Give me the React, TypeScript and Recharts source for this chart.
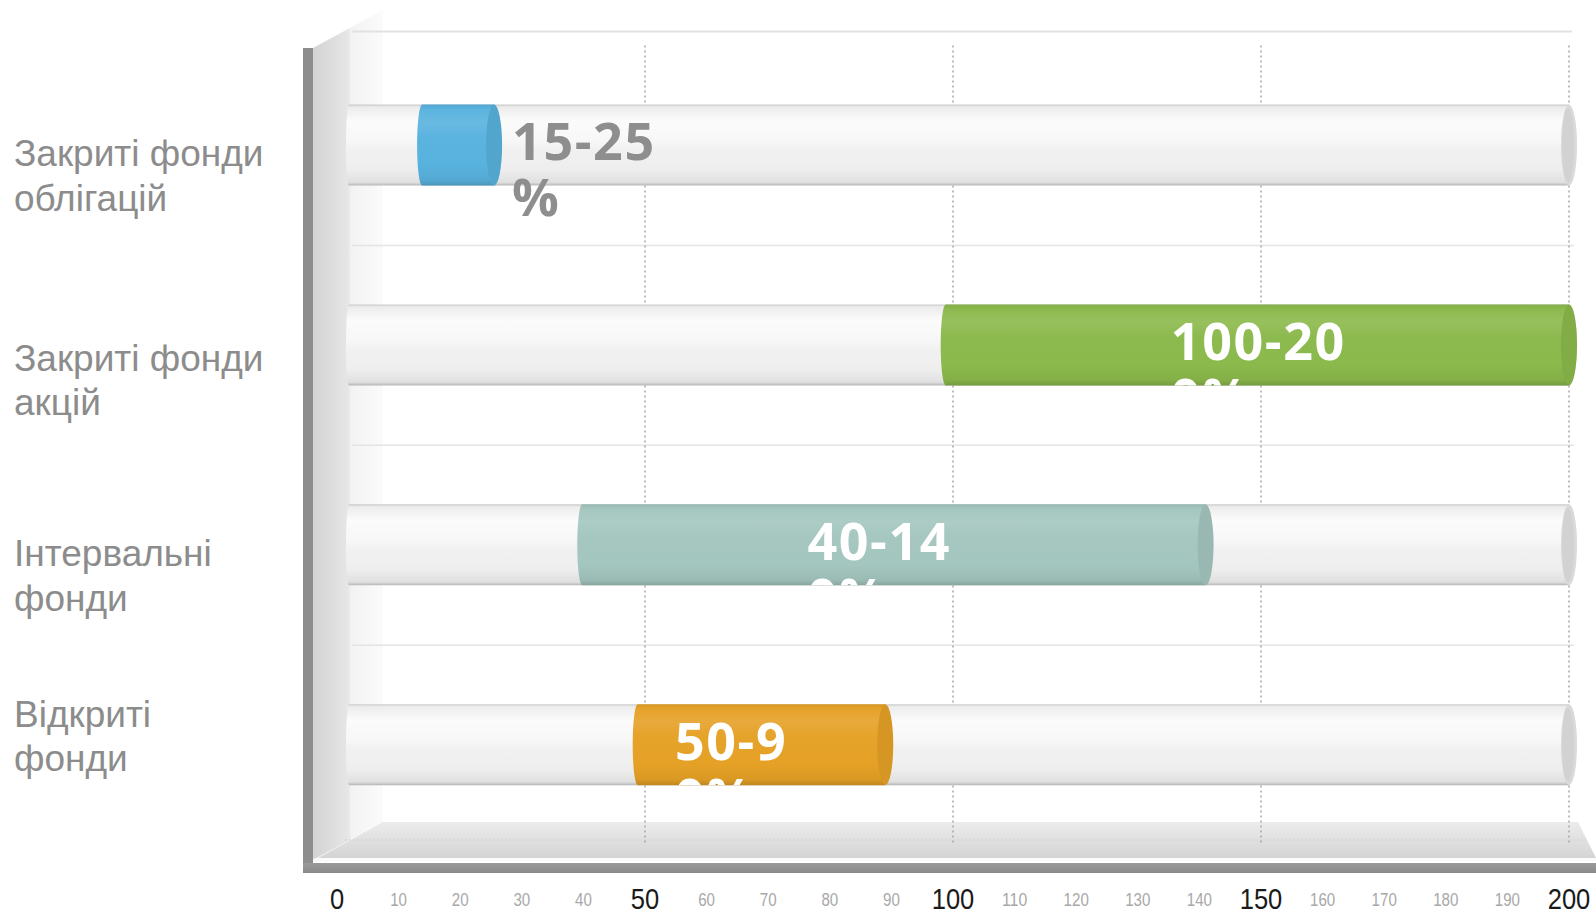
import React from 'react';
import { BarChart, Bar, XAxis, YAxis, CartesianGrid, Cell, LabelList } from 'recharts';

// ---------- data ----------
const categories = [
  'Закриті фонди облігацій',
  'Закриті фонди акцій',
  'Інтервальні фонди',
  'Відкриті фонди',
];
const rangeLow = [13, 98, 39, 48];
const rangeHigh = [25.5, 200, 141, 89];
const rangeLabels = ['15-25\n%', '100-20\n0%', '40-14\n0%', '50-9\n0%'];
const xTicks = [0, 10, 20, 30, 40, 50, 60, 70, 80, 90, 100, 110, 120, 130, 140, 150, 160, 170, 180, 190, 200];
const majorTicks = [0, 50, 100, 150, 200];
const barColors = ['#58b2de', '#8bb94b', '#a3c6be', '#e5a126'];

const data = categories.map((name, i) => ({
  name,
  range: [rangeLow[i], rangeHigh[i]],
  label: rangeLabels[i],
}));

// ---------- layout ----------
const W = 1596;
const H = 916;
const M_TOP = 45.6;
const M_RIGHT = 27;
const Y_AXIS_W = 337;
const X_AXIS_H = 60;
const M_BOTTOM = H - 845 - X_AXIS_H;
const PLOT_BOTTOM = H - M_BOTTOM - X_AXIS_H;
const BAND = (PLOT_BOTTOM - M_TOP) / categories.length;

const LABEL_FONT = "'Liberation Sans', Arial, sans-serif";
const TICK_FONT = "'Liberation Sans Narrow', 'Liberation Sans', Arial, sans-serif";
const VALUE_FONT = "'Open Sans', 'Noto Sans', sans-serif";

function shade(hex: string, amt: number) {
  const h = hex.replace('#', '');
  const r = parseInt(h.slice(0, 2), 16);
  const g = parseInt(h.slice(2, 4), 16);
  const b = parseInt(h.slice(4, 6), 16);
  const f = (c: number) =>
    Math.round(amt >= 0 ? c + (255 - c) * amt : c * (1 + amt));
  const to = (c: number) => Math.max(0, Math.min(255, f(c))).toString(16).padStart(2, '0');
  return '#' + to(r) + to(g) + to(b);
}

function wrapWords(text: string, maxChars: number) {
  const words = text.split(' ');
  const lines: string[] = [];
  let cur = '';
  for (const w of words) {
    const t = cur ? cur + ' ' + w : w;
    if (t.length > maxChars && cur) {
      lines.push(cur);
      cur = w;
    } else cur = t;
  }
  if (cur) lines.push(cur);
  return lines;
}

// ---------- shapes ----------
const Track = (props: any) => {
  const { x, y, width, height, index } = props;
  if (x == null || width == null) return null;
  const id = `track-${index}`;
  const x0 = x + 9;
  const x1 = x + width;
  const ry = height / 2;
  return (
    <g>
      <defs>
        <linearGradient id={id} x1="0" y1="0" x2="0" y2="1">
          <stop offset="0" stopColor="#c9c9c9" />
          <stop offset="0.03" stopColor="#ececec" />
          <stop offset="0.2" stopColor="#fbfbfb" />
          <stop offset="0.45" stopColor="#f7f7f7" />
          <stop offset="0.55" stopColor="#f1f1f1" />
          <stop offset="0.8" stopColor="#eeeeee" />
          <stop offset="0.96" stopColor="#e0e0e0" />
          <stop offset="1" stopColor="#b5b5b5" />
        </linearGradient>
      </defs>
      <path
        d={`M${x0 + 3},${y} H${x1} V${y + height} H${x0 + 3} A3,${ry} 0 0 1 ${x0 + 3},${y} Z`}
        fill={`url(#${id})`}
      />
      <ellipse cx={x1} cy={y + ry} rx={8} ry={ry} fill="#dadada" />
      <ellipse cx={x1 - 1} cy={y + ry} rx={6} ry={ry - 3} fill="#d2d2d2" />
    </g>
  );
};

const Cylinder = (props: any) => {
  const { x, y, width, height, fill, index } = props;
  if (x == null || width == null) return null;
  const id = `cyl-${index}`;
  const ry = height / 2;
  const x1 = x + width;
  return (
    <g>
      <defs>
        <linearGradient id={id} x1="0" y1="0" x2="0" y2="1">
          <stop offset="0" stopColor={shade(fill, -0.06)} />
          <stop offset="0.06" stopColor={shade(fill, 0.02)} />
          <stop offset="0.22" stopColor={shade(fill, 0.1)} />
          <stop offset="0.4" stopColor={shade(fill, 0.02)} />
          <stop offset="0.75" stopColor={fill} />
          <stop offset="0.93" stopColor={shade(fill, -0.05)} />
          <stop offset="1" stopColor={shade(fill, -0.16)} />
        </linearGradient>
      </defs>
      <path
        d={`M${x + 5},${y} H${x1} V${y + height} H${x + 5} A5,${ry} 0 0 1 ${x + 5},${y} Z`}
        fill={`url(#${id})`}
      />
      <ellipse cx={x1} cy={y + ry} rx={8} ry={ry} fill={shade(fill, -0.07)} />
    </g>
  );
};

const RangeLabel = (props: any) => {
  const vb = props.viewBox || {};
  const x = props.x ?? vb.x;
  const y = props.y ?? vb.y;
  const width = props.width ?? vb.width;
  const height = props.height ?? vb.height;
  const { value, index } = props;
  if (x == null || value == null) return null;
  const lines = String(value).split('\n');
  const inside = width > 150;
  const cy = y + height / 2;
  const left = inside ? x + width / 2 - 84 : x + width + 18;
  const color = inside ? '#ffffff' : '#8e8e8e';
  const clipId = `lblclip-${index}`;
  return (
    <g>
      {inside && (
        <defs>
          <clipPath id={clipId}>
            <rect x={x} y={y} width={width + 8} height={height} />
          </clipPath>
        </defs>
      )}
      <text
        x={left}
        y={cy + 15}
        fill={color}
        fontFamily={VALUE_FONT}
        fontWeight={700}
        fontSize={52}
        letterSpacing={1.6}
        clipPath={inside ? `url(#${clipId})` : undefined}
      >
        {lines.map((ln, i) => (
          <tspan key={i} x={left} dy={i === 0 ? 0 : 56}>
            {ln}
          </tspan>
        ))}
      </text>
    </g>
  );
};

const labelDy = [20.5, 25.5, 21, -18.5];

const YTick = (props: any) => {
  const { y, payload, index } = props;
  const lines = wrapWords(String(payload.value), 13);
  const dy = labelDy[index] ?? 20;
  return (
    <text x={14} y={y + dy} fill="#8c8c8c" fontFamily={LABEL_FONT} fontSize={37}>
      {lines.map((ln, i) => (
        <tspan key={i} x={14} dy={i === 0 ? 0 : 44.5}>
          {ln}
        </tspan>
      ))}
    </text>
  );
};

const XTick = (props: any) => {
  const { x, y, payload } = props;
  const major = majorTicks.includes(payload.value);
  const s = String(payload.value);
  return (
    <text
      x={x}
      y={y + (major ? 64 : 61)}
      textAnchor="middle"
      fill={major ? '#1a1a1a' : '#a8a8a8'}
      fontFamily={TICK_FONT}
      fontSize={major ? 30 : 18}
      textLength={s.length * (major ? 14.2 : 8.4)}
      lengthAdjust="spacingAndGlyphs"
    >
      {s}
    </text>
  );
};

// ---------- decorations (3D box) ----------
const Backdrop = () => {
  const boundaries = [1, 2, 3].map((i) => M_TOP + i * BAND);
  return (
    <svg width={W} height={H} style={{ position: 'absolute', left: 0, top: 0 }}>
      <defs>
        <linearGradient id="sideWall" x1="0" y1="0" x2="1" y2="0">
          <stop offset="0" stopColor="#d3d3d3" />
          <stop offset="0.5" stopColor="#e6e6e6" />
          <stop offset="0.55" stopColor="#f3f3f3" />
          <stop offset="1" stopColor="#fbfbfb" />
        </linearGradient>
        <linearGradient id="floor" x1="0" y1="0" x2="0" y2="1">
          <stop offset="0" stopColor="#ececec" />
          <stop offset="0.5" stopColor="#e0e0e0" />
          <stop offset="1" stopColor="#d4d4d4" />
        </linearGradient>
        <linearGradient id="frameB" x1="0" y1="0" x2="0" y2="1">
          <stop offset="0" stopColor="#9a9a9a" />
          <stop offset="1" stopColor="#8a8a8a" />
        </linearGradient>
      </defs>
      <rect x={0} y={0} width={W} height={H} fill="#ffffff" />
      <polygon points="313,48 383,10 383,822 313,860" fill="url(#sideWall)" />
      <line x1={352} y1={31.5} x2={1572} y2={31.5} stroke="#e2e2e2" strokeWidth={2} />
      {boundaries.map((b, i) => (
        <line key={i} x1={352} y1={b} x2={1574} y2={b} stroke="#e4e4e4" strokeWidth={1.5} />
      ))}
      <polygon points="318,858 383,822 1578,822 1596,858" fill="url(#floor)" />
      <line x1={345} y1={840} x2={1586} y2={840} stroke="#cfcfcf" strokeWidth={1} strokeDasharray="2 2" />
      <line x1={313} y1={860} x2={1596} y2={860} stroke="#fafafa" strokeWidth={3} />
      <rect x={303} y={48} width={10} height={825} fill="#8d8d8d" />
      <rect x={303} y={863} width={W - 303} height={10} fill="url(#frameB)" />
    </svg>
  );
};

export default function App() {
  return (
    <div
      style={{
        position: 'absolute',
        left: 0,
        top: 0,
        width: W,
        height: H,
        overflow: 'hidden',
        background: '#ffffff',
      }}
    >
      <Backdrop />
      <div style={{ position: 'absolute', left: 0, top: 0 }}>
        <BarChart
          width={W}
          height={H}
          data={data}
          layout="vertical"
          margin={{ top: M_TOP, right: M_RIGHT, bottom: M_BOTTOM, left: 0 }}
          barSize={81}
        >
          <CartesianGrid
            horizontal={false}
            verticalValues={[50, 100, 150, 200]}
            stroke="#a8a8a8"
            strokeDasharray="2 3"
            strokeWidth={1.5}
            fill="none"
          />
          <XAxis
            type="number"
            domain={[0, 200]}
            ticks={xTicks}
            interval={0}
            axisLine={false}
            tickLine={false}
            tickSize={0}
            tickMargin={0}
            height={X_AXIS_H}
            tick={<XTick />}
          />
          <YAxis
            type="category"
            dataKey="name"
            width={Y_AXIS_W}
            axisLine={false}
            tickLine={false}
            tick={<YTick />}
          />
          <Bar
            dataKey="range"
            isAnimationActive={false}
            background={(p: any) => <Track {...p} />}
            shape={(p: any) => <Cylinder {...p} />}
          >
            {data.map((_, i) => (
              <Cell key={i} fill={barColors[i]} />
            ))}
            <LabelList dataKey="label" content={(p: any) => <RangeLabel {...p} />} />
          </Bar>
        </BarChart>
      </div>
    </div>
  );
}
